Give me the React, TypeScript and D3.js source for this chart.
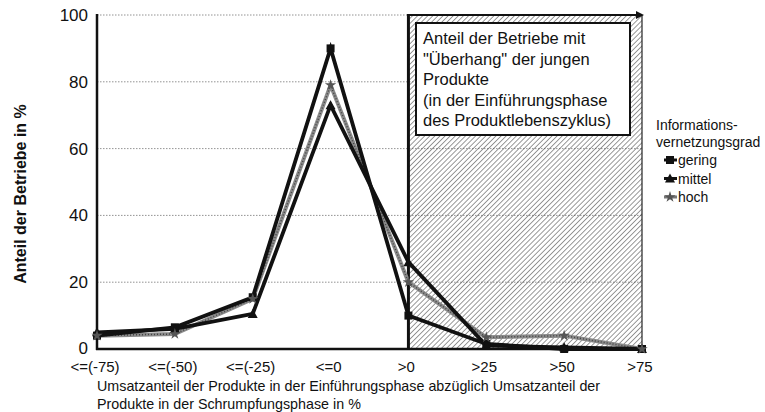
import React from 'react';
import * as d3 from 'd3';

const categories = ['<=(-75)', '<=(-50)', '<=(-25)', '<=0', '>0', '>25', '>50', '>75'];
const gering = [4, 6.5, 15.5, 90, 10, 1.5, 0, 0];
const mittel = [5, 6, 10.5, 73, 26, 1, 0.5, 0];
const hoch = [4, 4.5, 15, 79, 20, 3.5, 4, 0];
const yTicks = [0, 20, 40, 60, 80, 100];
const boxLines = [
  'Anteil der Betriebe mit',
  '"Überhang" der jungen',
  'Produkte',
  '(in der Einführungsphase',
  'des Produktlebenszyklus)',
];
const legendItems = [
  { name: 'gering', kind: 'square' },
  { name: 'mittel', kind: 'triangle' },
  { name: 'hoch', kind: 'star' },
];

const W = 765;
const H = 412;
const font = '"Liberation Sans", Arial, sans-serif';

export default function App() {
  const x = d3.scalePoint<string>().domain(categories).range([97, 642]);
  const y = d3.scaleLinear().domain([0, 100]).range([349, 15]);

  const line = d3
    .line<number>()
    .x((_, i) => x(categories[i]) as number)
    .y((d) => y(d));

  const hatchX0 = x('>0') as number;
  const hatchX1 = x('>75') as number;

  const marker = (kind: string, cx: number, cy: number, key: string) => {
    if (kind === 'square')
      return <rect key={key} x={cx - 4} y={cy - 4} width={8} height={8} fill="#111" />;
    if (kind === 'triangle')
      return (
        <path key={key} d={`M${cx},${cy - 5}L${cx + 5},${cy + 4}L${cx - 5},${cy + 4}Z`} fill="#111" />
      );
    return (
      <path
        key={key}
        d={d3.symbol(d3.symbolStar, 40)() as string}
        transform={`translate(${cx},${cy})`}
        fill="#555"
      />
    );
  };

  return (
    <svg width={W} height={H} style={{ position: 'absolute', left: 0, top: 0, background: '#fff' }}>
      <defs>
        <pattern id="hatch" width={3.6} height={3.6} patternUnits="userSpaceOnUse" patternTransform="rotate(45)">
          <line x1={0} y1={0} x2={0} y2={3.6} stroke="#444" strokeWidth={1.1} />
        </pattern>
      </defs>
      {/* grid */}
      {yTicks.slice(1).map((t) => (
        <line
          key={t}
          x1={97}
          x2={hatchX1}
          y1={y(t)}
          y2={y(t)}
          stroke="#777"
          strokeWidth={0.8}
          strokeDasharray="1.5,1.5"
        />
      ))}
      {/* hatched area */}
      <rect x={hatchX0} y={15} width={hatchX1 - hatchX0} height={334} fill="url(#hatch)" />
      <line x1={hatchX0} x2={hatchX0} y1={14} y2={349} stroke="#111" strokeWidth={3} />
      <line x1={hatchX1} x2={hatchX1} y1={15} y2={349} stroke="#222" strokeWidth={1.2} />
      <line x1={hatchX0} x2={hatchX1 - 4} y1={15} y2={15} stroke="#111" strokeWidth={2} />
      <path d={`M${hatchX1 + 2},15L${hatchX1 - 6},11L${hatchX1 - 6},19Z`} fill="#111" />
      {/* text box */}
      <rect x={416} y={23} width={214} height={112} fill="#fff" stroke="#111" strokeWidth={2} />
      {boxLines.map((l, i) => (
        <text key={i} x={423} y={44 + i * 20.5} fontFamily={font} fontSize={16.5} fill="#111">
          {l}
        </text>
      ))}
      {/* axes */}
      <line x1={97} x2={97} y1={14} y2={350} stroke="#111" strokeWidth={2.5} />
      <line x1={96} x2={hatchX1 + 1} y1={349} y2={349} stroke="#111" strokeWidth={2.5} />
      {yTicks.map((t) => (
        <text
          key={t}
          x={88}
          y={y(t) + (t === 0 ? 4.5 : 6)}
          textAnchor="end"
          fontFamily={font}
          fontSize={17}
          fill="#111"
        >
          {t}
        </text>
      ))}
      {categories.map((c) => (
        <text
          key={c}
          x={(x(c) as number) - 2}
          y={372}
          textAnchor="middle"
          fontFamily={font}
          fontSize={15}
          fill="#111"
        >
          {c}
        </text>
      ))}
      <text x={97} y={391} fontFamily={font} fontSize={14.3} fill="#111">
        Umsatzanteil der Produkte in der Einführungsphase abzüglich Umsatzanteil der
      </text>
      <text x={97} y={409} fontFamily={font} fontSize={14.3} fill="#111">
        Produkte in der Schrumpfungsphase in %
      </text>
      <text
        transform="translate(26,194) rotate(-90)"
        textAnchor="middle"
        fontFamily={font}
        fontSize={16}
        fontWeight="bold"
        fill="#111"
      >
        Anteil der Betriebe in %
      </text>
      {/* series */}
      <path d={line(hoch) as string} fill="none" stroke="#8a8a8a" strokeWidth={4} strokeLinejoin="round" />
      <path d={line(hoch) as string} fill="none" stroke="#444" strokeWidth={1.5} strokeDasharray="1,2" />
      <path d={line(mittel) as string} fill="none" stroke="#111" strokeWidth={3.8} strokeLinejoin="miter" />
      <path d={line(gering) as string} fill="none" stroke="#111" strokeWidth={3.8} strokeLinejoin="miter" />
      {gering.map((v, i) => marker('square', x(categories[i]) as number, y(v), 'g' + i))}
      {mittel.map((v, i) => marker('triangle', x(categories[i]) as number, y(v), 'm' + i))}
      {hoch.map((v, i) => marker('star', x(categories[i]) as number, y(v), 'h' + i))}
      {/* legend */}
      <text x={656} y={130} fontFamily={font} fontSize={14} fill="#111">
        Informations-
      </text>
      <text x={656} y={147} fontFamily={font} fontSize={14} fill="#111">
        vernetzungsgrad
      </text>
      {legendItems.map((it, i) => (
        <g key={it.name}>
          <line x1={664} x2={677} y1={160 + i * 18.5} y2={160 + i * 18.5} stroke={it.kind === 'star' ? '#777' : '#111'} strokeWidth={3} />
          {marker(it.kind, 670, 160 + i * 18.5, 'l' + i)}
          <text x={678} y={165 + i * 18.5} fontFamily={font} fontSize={14} fill="#111">
            {it.name}
          </text>
        </g>
      ))}
    </svg>
  );
}
